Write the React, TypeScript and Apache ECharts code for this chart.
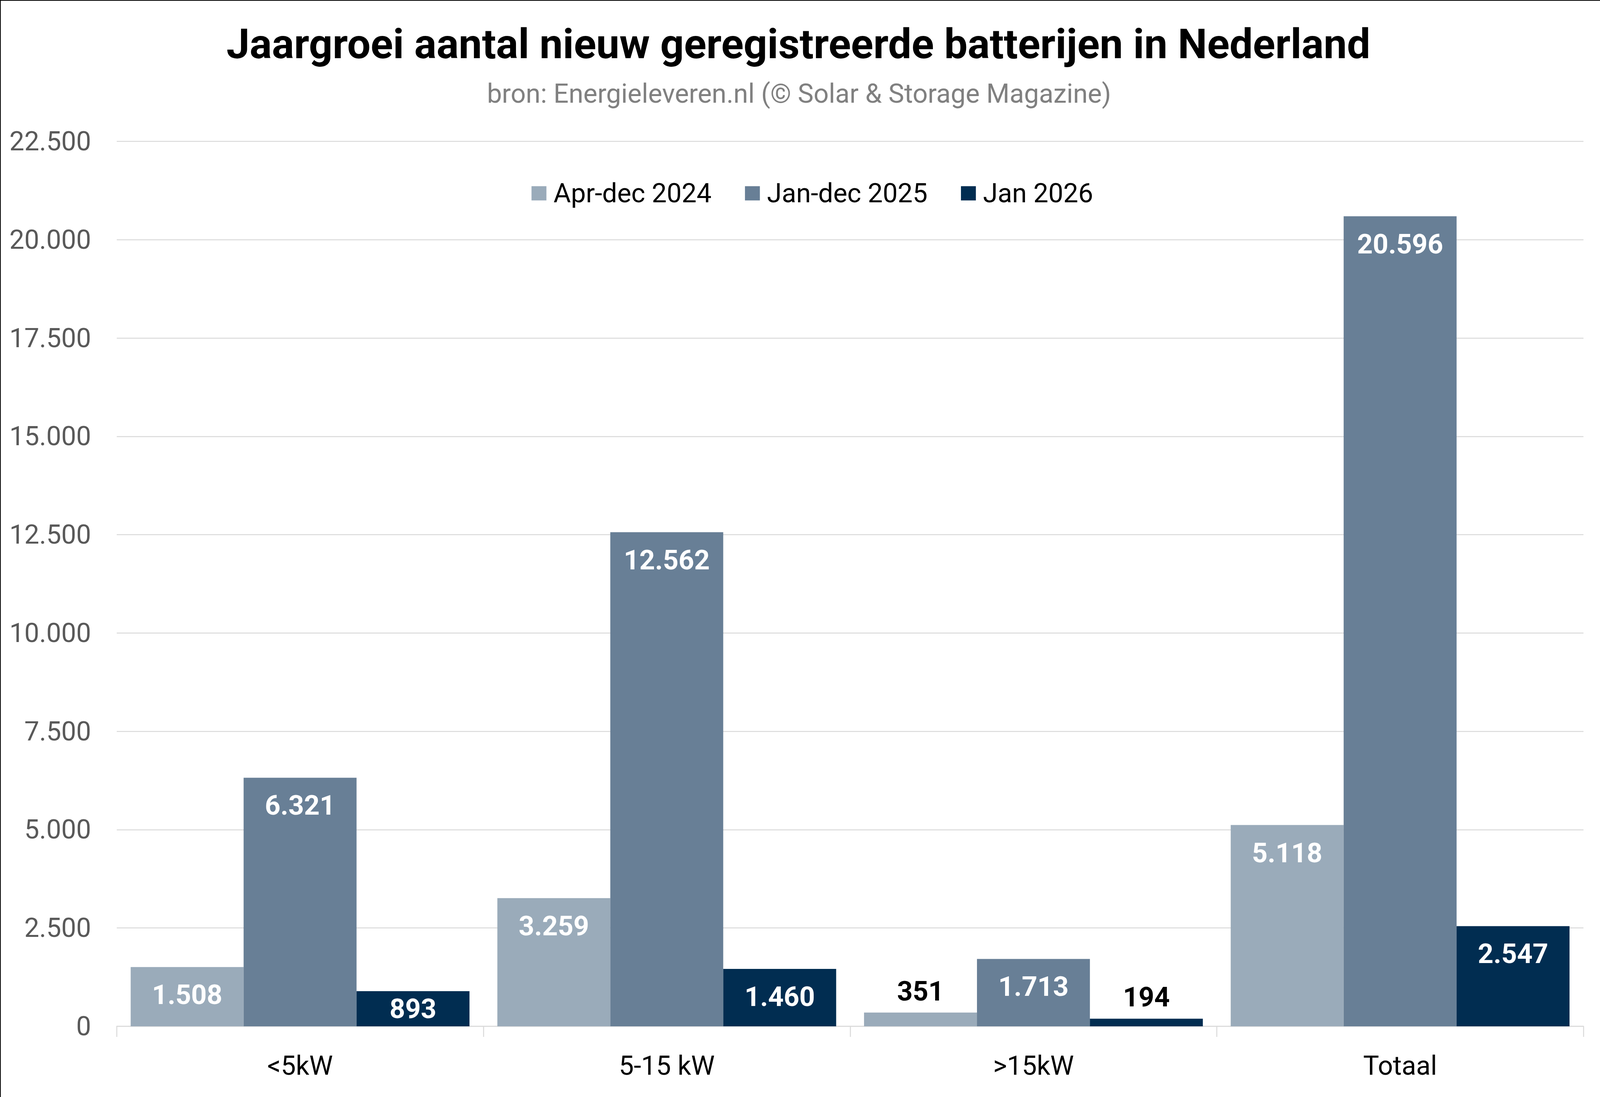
import React, { useEffect, useRef } from "react";
import * as echarts from "echarts";

const categories = ["<5kW", "5-15 kW", ">15kW", "Totaal"];
const seriesNames = ["Apr-dec 2024", "Jan-dec 2025", "Jan 2026"];
const aprDec2024 = [1508, 3259, 351, 5118];
const janDec2025 = [6321, 12562, 1713, 20596];
const jan2026 = [893, 1460, 194, 2547];
const seriesColors = ["#9AABBA", "#687F96", "#012D51"];
const yMin = 0;
const yMax = 22500;
const yInterval = 2500;
const titleText = "Jaargroei aantal nieuw geregistreerde batterijen in Nederland";
const subtitleText = "bron: Energieleveren.nl (© Solar & Storage Magazine)";

const fmt = (v: number) => String(Math.round(v)).replace(/\B(?=(\d{3})+(?!\d))/g, ".");

const FONT = "Roboto, 'Noto Sans', sans-serif";
const REF_W = 4934;
const REF_H = 2809;

export default function App() {
  const ref = useRef<HTMLDivElement>(null);
  useEffect(() => {
    if (!ref.current) return;
    const W = ref.current.clientWidth || REF_W;
    const H = ref.current.clientHeight || REF_H;
    const sx = W / REF_W;
    const sy = H / REF_H;
    const s = Math.min(sx, sy);
    const X = (n: number) => n * sx;
    const Y = (n: number) => n * sy;
    const P = (n: number) => n * s;

    const valueFont = P(84);
    const labelFor = (v: number) => {
      if (v < 500) return { position: "top", distance: Math.max(0, Y(55) - valueFont / 2), color: "#000000" };
      if (v < 1000) return { position: "inside", color: "#ffffff" };
      return { position: "insideTop", distance: Math.max(0, Y(71) - valueFont / 2), color: "#ffffff" };
    };

    const chart = echarts.init(ref.current, null, { renderer: "svg" });
    const allSeries = [aprDec2024, janDec2025, jan2026];
    const legendFont = P(82);
    const catFont = P(82);
    const option: any = {
      animation: false,
      backgroundColor: "#ffffff",
      textStyle: { fontFamily: FONT },
      graphic: [
        {
          type: "text",
          x: X(2462),
          y: Y(112),
          style: {
            text: titleText,
            fill: "#000000",
            fontSize: P(128),
            fontWeight: "bold",
            fontFamily: FONT,
            align: "center",
            verticalAlign: "middle",
            textAlign: "center",
            textVerticalAlign: "middle",
          },
        },
        {
          type: "text",
          x: X(2464),
          y: Y(240),
          style: {
            text: subtitleText,
            fill: "#808080",
            fontSize: P(82),
            fontFamily: FONT,
            align: "center",
            verticalAlign: "middle",
            textAlign: "center",
            textVerticalAlign: "middle",
          },
        },
        { type: "rect", shape: { x: 0, y: 0, width: W, height: 2 }, style: { fill: "#000000" } },
        { type: "rect", shape: { x: 0, y: 0, width: 2, height: H }, style: { fill: "#000000" } },
      ],
      legend: {
        left: X(1633),
        top: Y(490) - legendFont / 2,
        itemWidth: P(46),
        itemHeight: P(44),
        itemGap: P(103),
        icon: "rect",
        data: seriesNames,
        textStyle: {
          fontSize: legendFont,
          lineHeight: legendFont,
          color: "#000000",
          fontFamily: FONT,
          padding: [0, 0, 0, P(16)],
        },
      },
      grid: { left: X(360), right: X(51), top: Y(362), bottom: Y(181), containLabel: false },
      xAxis: {
        type: "category",
        data: categories,
        axisLine: { show: true, lineStyle: { color: "#D9D9D9", width: P(3) } },
        axisTick: { show: true, length: Y(27), alignWithLabel: false, lineStyle: { color: "#D9D9D9", width: P(3) } },
        axisLabel: {
          fontSize: catFont,
          lineHeight: catFont,
          color: "#000000",
          margin: Y(101) - catFont / 2,
          fontFamily: FONT,
        },
        splitLine: { show: false },
      },
      yAxis: {
        type: "value",
        min: yMin,
        max: yMax,
        interval: yInterval,
        axisLine: { show: false },
        axisTick: { show: false },
        axisLabel: { fontSize: P(82), color: "#595959", margin: X(79), fontFamily: FONT, formatter: (v: number) => fmt(v) },
        splitLine: { show: true, lineStyle: { color: "#D9D9D9", width: P(3) } },
      },
      series: allSeries.map((vals, i) => ({
        name: seriesNames[i],
        type: "bar",
        barGap: "0%",
        barCategoryGap: "7.6%",
        itemStyle: { color: seriesColors[i] },
        data: vals.map((v) => ({
          value: v,
          label: {
            show: true,
            fontSize: valueFont,
            lineHeight: valueFont,
            fontWeight: "bold",
            fontFamily: FONT,
            formatter: (p: any) => fmt(p.value),
            ...labelFor(v),
          },
        })),
      })),
    };
    chart.setOption(option);
    return () => chart.dispose();
  }, []);
  return (
    <div
      ref={ref}
      style={{ position: "fixed", left: 0, top: 0, width: "100vw", height: "100vh", background: "#fff" }}
    />
  );
}
